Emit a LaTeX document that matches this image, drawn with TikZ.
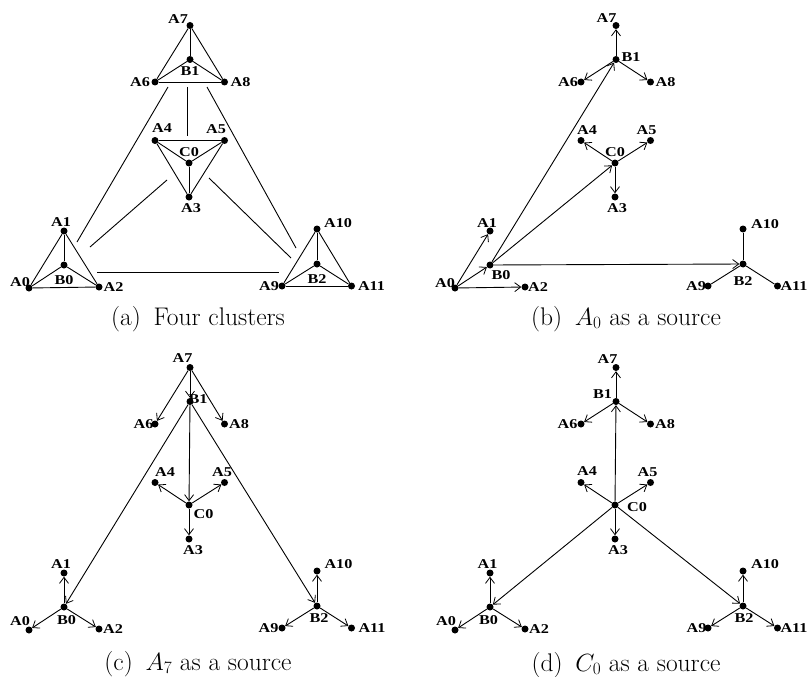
\documentclass[tikz,border=0pt]{standalone}
\usepackage{fontspec}
\newfontfamily\labfont[FakeStretch=1.2]{Liberation Serif}
\usetikzlibrary{arrows.meta}
\tikzset{
  dot/.style={circle, fill=black, inner sep=0pt, minimum size=7pt},
  lbl/.style={font=\labfont\bfseries\fontsize{13.5}{13.5}\selectfont, inner sep=0pt},
  ln/.style={line width=0.9pt, draw=black},
  arr/.style={ln, -{Straight Barb[length=6pt,width=9pt,line width=0.8pt]}},
  captext/.style={font=\fontsize{25.5}{30}\selectfont, anchor=base, inner sep=0pt}
}
\newcommand\placenodes{%
  \node[dot] (A7) at (190,25.5) {};
  \node[dot] (B1) at (190,59.5) {};
  \node[dot] (A6) at (155,82) {};
  \node[dot] (A8) at (224.5,82) {};
  \node[dot] (A4) at (155,140.5) {};
  \node[dot] (A5) at (224.5,140.5) {};
  \node[dot] (C0) at (189,163) {};
  \node[dot] (A3) at (189,197) {};
  \node[dot] (A1) at (64,231) {};
  \node[dot] (B0) at (64,265) {};
  \node[dot] (A0) at (29,288) {};
  \node[dot] (A2) at (99,287) {};
  \node[dot] (A10) at (317,229) {};
  \node[dot] (B2) at (317,264) {};
  \node[dot] (A9) at (282,286) {};
  \node[dot] (A11) at (351.5,286) {};
}
\newcommand\lab[4]{\node[lbl] (#1l) at ([shift={(#2,#3)}]#1) {#4};}
\begin{document}
\begin{tikzpicture}[x=1pt,y=-1pt]
\useasboundingbox (0,0) rectangle (809,677);

% ---------------- (a) ----------------
\begin{scope}[name prefix=a-]
\placenodes
\foreach \p/\q in {A7/A6,A7/A8,A6/A8,B1/A7,B1/A6,B1/A8,
                   A4/A5,A4/A3,A5/A3,C0/A4,C0/A5,C0/A3,
                   A1/A0,A1/A2,A0/A2,B0/A1,B0/A0,B0/A2,
                   A10/A9,A10/A11,A9/A11,B2/A10,B2/A9,B2/A11}
  \draw[ln] (\p) -- (\q);
\coordinate (L1s) at (168,87);  \coordinate (L1e) at (77,242);
\coordinate (L2s) at (187,87);  \coordinate (L2e) at (187,136);
\coordinate (L3s) at (207,87);  \coordinate (L3e) at (296,248);
\coordinate (L4s) at (167,180); \coordinate (L4e) at (90,247);
\coordinate (L5s) at (209,178); \coordinate (L5e) at (291,258);
\coordinate (L6s) at (97,272);  \coordinate (L6e) at (279,272);
\foreach \i in {1,...,6} \draw[ln] (L\i s) -- (L\i e);
\lab{A7}{-12}{-6}{A7}
\lab{B1}{0}{12}{B1}
\lab{A6}{-15}{0}{A6}
\lab{A8}{16}{0}{A8}
\lab{A4}{7}{-12}{A4}
\lab{A5}{-8.5}{-11}{A5}
\lab{C0}{0}{-10.5}{C0}
\lab{A3}{2}{11}{A3}
\lab{A1}{-3}{-9}{A1}
\lab{B0}{0}{15}{B0}
\lab{A0}{-9}{-6}{A0}
\lab{A2}{14.5}{0}{A2}
\lab{A10}{21}{-6}{A10}
\lab{B2}{0}{15}{B2}
\lab{A9}{-13}{0}{A9}
\lab{A11}{20}{0}{A11}
\node[captext] (cap) at (198,325) {(a)\hspace{0.5em}Four clusters};
\end{scope}

% ---------------- (b) ----------------
\begin{scope}[shift={(426,0)}, name prefix=b-]
\placenodes
\foreach \p/\q in {A0/A1,A0/B0,A0/A2,B0/B1,B0/C0,B0/B2,B1/A7,B1/A6,B1/A8,C0/A4,C0/A5,C0/A3}
  \draw[arr] (\p) -- (\q);
\foreach \p/\q in {B2/A10,B2/A9,B2/A11}
  \draw[ln] (\p) -- (\q);
\lab{A7}{-9.5}{-7}{A7}
\lab{B1}{15}{-2}{B1}
\lab{A6}{-13}{0}{A6}
\lab{A8}{15}{0}{A8}
\lab{A4}{6}{-10.5}{A4}
\lab{A5}{-4}{-10.5}{A5}
\lab{C0}{0}{-11}{C0}
\lab{A3}{2}{11}{A3}
\lab{A1}{-3}{-8}{A1}
\lab{B0}{11}{10}{B0}
\lab{A0}{-10}{-5}{A0}
\lab{A2}{13}{0}{A2}
\lab{A10}{22}{-4.5}{A10}
\lab{B2}{0}{17}{B2}
\lab{A9}{-12}{0}{A9}
\lab{A11}{16.5}{0}{A11}
\node[captext] (cap) at (200,325) {(b)\hspace{0.5em}$A_0$ as a source};
\end{scope}

% ---------------- (c) ----------------
\begin{scope}[shift={(0,342)}, name prefix=c-]
\placenodes
\foreach \p/\q in {A7/B1,A7/A6,A7/A8,B1/C0,B1/B0,B1/B2,C0/A4,C0/A5,C0/A3,
                   B0/A1,B0/A0,B0/A2,B2/A10,B2/A9,B2/A11}
  \draw[arr] (\p) -- (\q);
\lab{A7}{-7.5}{-9}{A7}
\lab{B1}{8}{-2}{B1}
\lab{A6}{-11.5}{0}{A6}
\lab{A8}{14.5}{0}{A8}
\lab{A4}{10}{-10}{A4}
\lab{A5}{-2.5}{-10}{A5}
\lab{C0}{14.5}{9}{C0}
\lab{A3}{4}{11}{A3}
\lab{A1}{-3}{-9}{A1}
\lab{B0}{2.5}{13}{B0}
\lab{A0}{-9}{-9}{A0}
\lab{A2}{14}{0}{A2}
\lab{A10}{21.5}{-6.5}{A10}
\lab{B2}{2}{12}{B2}
\lab{A9}{-13.5}{0}{A9}
\lab{A11}{20.5}{0}{A11}
\node[captext] (cap) at (198,328) {(c)\hspace{0.5em}$A_7$ as a source};
\end{scope}

% ---------------- (d) ----------------
\begin{scope}[shift={(426,342)}, name prefix=d-]
\placenodes
\foreach \p/\q in {C0/B1,C0/B0,C0/B2,B1/A7,B1/A6,B1/A8,C0/A4,C0/A5,C0/A3,
                   B0/A1,B0/A0,B0/A2,B2/A10,B2/A9,B2/A11}
  \draw[arr] (\p) -- (\q);
\lab{A7}{-8.5}{-8}{A7}
\lab{B1}{-13.5}{-7}{B1}
\lab{A6}{-13.5}{0}{A6}
\lab{A8}{14.5}{0}{A8}
\lab{A4}{6}{-11}{A4}
\lab{A5}{-3}{-10}{A5}
\lab{C0}{22}{2}{C0}
\lab{A3}{3}{11}{A3}
\lab{A1}{-2.5}{-9}{A1}
\lab{B0}{-1.5}{13}{B0}
\lab{A0}{-9}{-9}{A0}
\lab{A2}{14}{0}{A2}
\lab{A10}{22}{-6.5}{A10}
\lab{B2}{1}{12}{B2}
\lab{A9}{-11.5}{0}{A9}
\lab{A11}{16.5}{0}{A11}
\node[captext] (cap) at (200,329) {(d)\hspace{0.5em}$C_0$ as a source};
\end{scope}
\end{tikzpicture}
\end{document}
